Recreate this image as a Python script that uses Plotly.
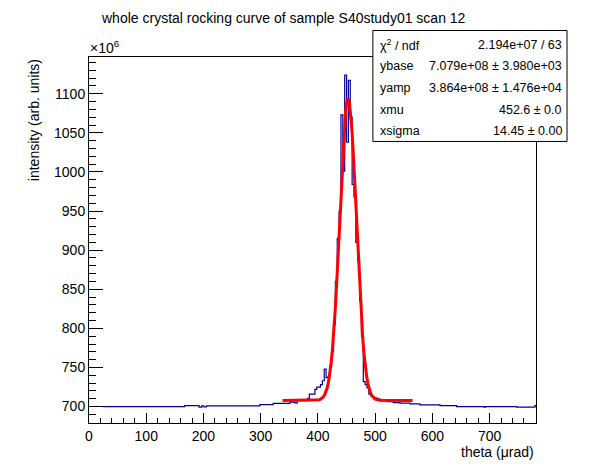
import numpy as np
import plotly.graph_objects as go

# ---- histogram data (bin edges in µrad, contents in units of 1e6) ----
theta_edges = [24.5, 167.3, 192.3, 197.0, 200.5, 205.2, 298.4, 321.7, 351.0, 359.6, 364.0,
               381.75, 385.0, 388.25, 391.5, 394.75, 398.0, 401.25, 404.5, 407.75, 411.0,
               414.25, 417.5, 420.75, 424.0, 427.25, 430.5, 433.75, 437.0, 440.25, 443.5,
               446.75, 450.0, 453.25, 456.5, 459.75, 463.0, 466.25, 469.5, 472.75, 476.0,
               479.25, 482.5, 485.75, 489.0, 492.25, 495.5, 498.75, 502.0, 505.25, 508.5,
               520.0, 531.5, 543.2, 560.7, 578.1, 613.1, 642.3, 690.0, 693.0, 747.2,
               779.2, 781.0]
intensity = [700.0, 701.3, 699.4, 701.0, 699.5, 701.0, 702.5, 704.0, 705.6, 704.8,
             707.6, 710.5, 715.8, 715.8, 715.8, 722.0, 725.0, 725.0, 728.0, 733.0,
             748.0, 737.0, 738.0, 752.0, 770.0, 805.0, 860.0, 915.0, 950.0, 1073.0,
             1001.0, 1124.0, 1038.0, 1117.0, 1070.0, 984.0, 968.0, 910.0, 886.0, 835.0,
             790.0, 732.0, 728.0, 724.0, 716.0, 714.0, 712.0, 711.0, 710.5, 709.5,
             707.7, 706.4, 705.1, 704.3, 703.4, 702.2, 701.3, 700.0, 699.3, 700.0,
             699.2, 701.3]

# ---- fit parameters (from the stats box) ----
fit_range = [338.1, 565.4]
ybase = 707.9      # x1e6
yamp = 386.4       # x1e6
xmu = 452.6
xsigma = 14.45

stat_labels = ["χ<sup>2</sup> / ndf", "ybase", "yamp", "xmu", "xsigma"]
stat_values = ["2.194e+07 / 63", "7.079e+08 ± 3.980e+03", "3.864e+08 ± 1.476e+04",
               "452.6 ± 0.0", "14.45 ± 0.00"]

title = "whole crystal rocking curve of sample S40study01 scan 12"
x_title = "theta (μrad)"
y_title = "intensity (arb. units)"

FONT = "Liberation Sans, Arial, Helvetica, sans-serif"

fx = np.linspace(fit_range[0], fit_range[1], 100)
fy = ybase + yamp * np.exp(-0.5 * ((fx - xmu) / xsigma) ** 2)

fig = go.Figure()
fig.add_trace(go.Scatter(x=theta_edges, y=intensity + [intensity[-1]], mode="lines",
                         line=dict(color="#000099", width=1.2, shape="hv"),
                         hoverinfo="skip", showlegend=False))
fig.add_trace(go.Scatter(x=fx, y=fy, mode="lines",
                         line=dict(color="#ff0000", width=3),
                         hoverinfo="skip", showlegend=False))

# page has an 8px body margin: work in window pixels, shift by the offset
OFF = 8
W, H = 596 - 2 * OFF, 472 - 2 * OFF
L, R, T, B = 89.3 - OFF, 536.0 - OFF, 56.5 - OFF, 422.7 - OFF
def px2paper_x(px):
    return (px - OFF - L) / (R - L)
def py2paper_y(py):
    return (B - (py - OFF)) / (B - T)

fig.update_layout(
    width=W, height=H, autosize=False,
    margin=dict(l=L, r=W - R, t=T, b=H - B, pad=0),
    paper_bgcolor="white", plot_bgcolor="white",
    font=dict(family=FONT, size=14, color="black"),
    xaxis=dict(range=[0, 781], showgrid=False, zeroline=False,
               showline=True, linecolor="black", linewidth=1, mirror=True,
               ticks="inside", ticklen=10, tickwidth=1, tickcolor="black",
               tick0=0, dtick=100,
               minor=dict(ticks="inside", ticklen=5, dtick=20, tick0=0, tickcolor="black", showgrid=False),
               tickfont=dict(size=14, family=FONT)),
    yaxis=dict(range=[679, 1147], showgrid=False, zeroline=False,
               showline=True, linecolor="black", linewidth=1, mirror=True,
               ticks="inside", ticklen=14, tickwidth=1, tickcolor="black",
               tick0=0, dtick=50,
               minor=dict(ticks="inside", ticklen=7, dtick=10, tick0=0, tickcolor="black", showgrid=False),
               tickfont=dict(size=14, family=FONT)),
)

ann = []
ann.append(dict(text=title, x=px2paper_x(284), y=py2paper_y(17), xref="paper", yref="paper",
                xanchor="center", yanchor="middle", showarrow=False,
                font=dict(size=14, family=FONT)))
ann.append(dict(text="×10<sup>6</sup>", x=px2paper_x(88), y=py2paper_y(46), xref="paper", yref="paper",
                xanchor="left", yanchor="middle", showarrow=False, font=dict(size=14, family=FONT)))
ann.append(dict(text=y_title, x=px2paper_x(35), y=py2paper_y(57), xref="paper", yref="paper",
                xanchor="center", yanchor="top", textangle=-90, showarrow=False,
                font=dict(size=14, family=FONT)))
ann.append(dict(text=x_title, x=px2paper_x(536), y=py2paper_y(452), xref="paper", yref="paper",
                xanchor="right", yanchor="middle", showarrow=False, font=dict(size=14, family=FONT)))

row_y = [44, 66, 88, 109.5, 130.5]
for lab, val, ry in zip(stat_labels, stat_values, row_y):
    ann.append(dict(text=lab, x=px2paper_x(378), y=py2paper_y(ry), xref="paper", yref="paper",
                    xanchor="left", yanchor="middle", showarrow=False,
                    font=dict(size=12.5, family=FONT)))
    ann.append(dict(text=val, x=px2paper_x(564), y=py2paper_y(ry), xref="paper", yref="paper",
                    xanchor="right", yanchor="middle", showarrow=False,
                    font=dict(size=12.5, family=FONT)))
fig.update_layout(annotations=ann)

fig.add_shape(type="rect", xref="paper", yref="paper",
              x0=px2paper_x(373), x1=px2paper_x(567), y0=py2paper_y(141), y1=py2paper_y(30),
              line=dict(color="black", width=1), fillcolor="white", layer="above")

fig.write_html("out.html")
